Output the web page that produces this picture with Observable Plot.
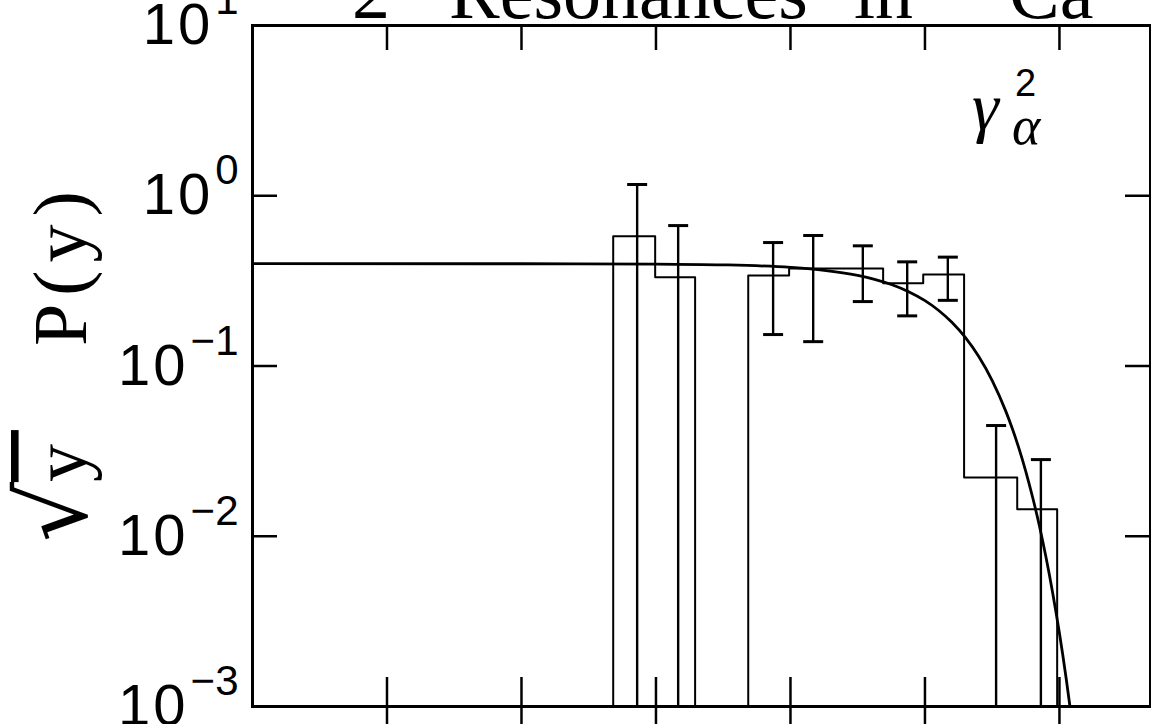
<!DOCTYPE html>
<html>
<head>
<meta charset="utf-8">
<script src="https://cdn.jsdelivr.net/npm/d3@7"></script>
<script src="https://cdn.jsdelivr.net/npm/@observablehq/plot@0.6"></script>
<style>
  html, body { margin: 0; padding: 0; background: #fff; }
  #wrap { position: relative; width: 1151px; height: 724px; overflow: hidden; background: #fff; }
  #wrap > svg { position: absolute; left: 0; top: 0; }
  #ov { pointer-events: none; }
</style>
</head>
<body>
<div id="wrap">
<svg id="ov" width="1151" height="724" xmlns="http://www.w3.org/2000/svg" style="z-index:2">
  <text font-family="Liberation Serif" font-size="76" y="18" fill="#000">
    <tspan x="352">2</tspan><tspan font-size="46" dy="-34">+</tspan><tspan x="449" dy="34">Resonances</tspan><tspan x="854">in</tspan><tspan x="935" font-size="46" dy="-34">44</tspan><tspan x="1009" dy="34">Ca</tspan>
  </text>
  <text transform="translate(86,542) rotate(-90)" font-family="Liberation Serif" font-size="76" fill="#000"><tspan x="0" font-family="DejaVu Sans" font-size="94">√</tspan><tspan text-decoration="overline" letter-spacing="14">y</tspan><tspan x="196" letter-spacing="8">P(y)</tspan></text>
  <text font-family="Liberation Serif" font-style="italic" fill="#000">
    <tspan x="972" y="130" font-size="68">γ</tspan>
    <tspan x="1015" y="96" font-size="38" font-style="normal" font-family="Liberation Sans">2</tspan>
    <tspan x="1012" y="144" font-size="54">α</tspan>
  </text>
</svg>
</div>
<script>
// ---- data (x: log10 of reduced width y = γ²/<γ²>, y: √y P(y)) ----
const binLo  = [-2.318, -2.006, -1.314, -1.010, -0.660, -0.311, -0.013, 0.291, 0.686];
const binHi  = [-2.006, -1.709, -1.010, -0.660, -0.311, -0.013, 0.291, 0.686, 0.983];
const binVal = [0.578, 0.332, 0.340, 0.374, 0.374, 0.306, 0.345, 0.0221, 0.0144];

const errX    = [-2.140, -1.835, -1.129, -0.831, -0.462, -0.132, 0.170, 0.529, 0.862];
const errLow  = [0, 0, 0.153, 0.139, 0.239, 0.197, 0.243, 0, 0];
const errHigh = [1.164, 0.668, 0.531, 0.584, 0.508, 0.409, 0.436, 0.0447, 0.0282];

const curveX = [-5, -3, -2, -1.5, -1, -0.75, -0.5, -0.375, -0.25, -0.125, 0, 0.1, 0.2, 0.3, 0.4, 0.5, 0.6, 0.65, 0.7, 0.75, 0.8, 0.85, 0.9, 0.95, 1.0, 1.05, 1.078];
const curveY = [0.3989, 0.3987, 0.3969, 0.3927, 0.3795, 0.3650, 0.3406, 0.3231, 0.3011, 0.2742, 0.2420, 0.2126, 0.1806, 0.1471, 0.1136, 0.0821, 0.0545, 0.0428, 0.0326, 0.0240, 0.0170, 0.0116, 0.00752, 0.00463, 0.00269, 0.00146, 0.00100];

const xTicks = [-4, -3, -2, -1, 0, 1];
const yTicks = [1e-2, 1e-1, 1e0];
const yLabelTicks = [1e-3, 1e-2, 1e-1, 1e0, 1e1];

const xDomain = [-5, 1.677];
const yDomain = [1e-3, 10];

// ---- derived tables ----
const yMin = yDomain[0];
const outline = [];
let group = 0;
binLo.forEach((lo, i) => {
  const startNew = i === 0 || Math.abs(binHi[i - 1] - lo) > 1e-9;
  if (startNew) {
    if (i > 0) outline.push({x: binHi[i - 1], y: yMin, g: group});
    group++;
    outline.push({x: lo, y: yMin, g: group});
  }
  outline.push({x: lo, y: binVal[i], g: group});
  outline.push({x: binHi[i], y: binVal[i], g: group});
});
outline.push({x: binHi[binHi.length - 1], y: yMin, g: group});

const errs = errX.map((x, i) => ({x, lo: Math.max(errLow[i], yMin), hi: errHigh[i], hasLo: errLow[i] > yMin}));
const caps = [];
errs.forEach(e => { caps.push({x: e.x, y: e.hi}); if (e.hasLo) caps.push({x: e.x, y: e.lo}); });
const curve = curveX.map((x, i) => ({x, y: curveY[i]}));

const capSymbol = {draw(ctx, size) { const h = Math.sqrt(size / Math.PI); ctx.moveTo(-h, 0); ctx.lineTo(h, 0); }};

const W = 1151, H = 724, mL = 252, mR = 1, mT = 25, mB = 18;
const innerW = W - mL - mR, innerH = H - mT - mB;
const tickLen = 25;

const chart = Plot.plot({
  width: W, height: H,
  marginLeft: mL, marginRight: mR, marginTop: mT, marginBottom: mB,
  style: {background: "transparent", overflow: "visible", color: "#000"},
  x: {domain: xDomain, axis: null},
  y: {type: "log", domain: yDomain, axis: null},
  marks: [
    // axis ticks (inside the frame)
    Plot.tickX(xTicks, {x: d => d, insetBottom: innerH - tickLen, stroke: "#000", strokeWidth: 2.5}),
    Plot.tickX(xTicks, {x: d => d, insetTop: innerH - tickLen - 4, insetBottom: -22, stroke: "#000", strokeWidth: 2.5}),
    Plot.tickY(yTicks, {y: d => d, insetRight: innerW - tickLen, stroke: "#000", strokeWidth: 2.5}),
    Plot.tickY(yTicks, {y: d => d, insetLeft: innerW - tickLen, stroke: "#000", strokeWidth: 2.5}),
    // histogram outline
    Plot.line(outline, {x: "x", y: "y", z: "g", stroke: "#000", strokeWidth: 2, curve: "linear"}),
    // error bars
    Plot.ruleX(errs, {x: "x", y1: "lo", y2: "hi", stroke: "#000", strokeWidth: 2.4}),
    Plot.dot(caps, {x: "x", y: "y", r: 10, symbol: capSymbol, fill: "none", stroke: "#000", strokeWidth: 3}),
    // Porter-Thomas curve
    Plot.line(curve, {x: "x", y: "y", stroke: "#000", strokeWidth: 2.8, curve: "monotone-x"}),
    Plot.frame({stroke: "#000", strokeWidth: 3}),
    Plot.axisY(yLabelTicks, {
      anchor: "left", tickSize: 0, tickPadding: 14,
      tickFormat: d => String(Math.round(Math.log10(d))),
      fontSize: 58, fontFamily: "Liberation Sans", fill: "#000"
    })
  ]
});

const wrap = document.getElementById("wrap");
wrap.insertBefore(chart, wrap.firstChild);

// superscript exponents on the y tick labels
d3.select(chart).selectAll('g[aria-label="y-axis tick label"] text').each(function() {
  const exp = this.textContent.replace("-", "\u2212");
  const t = d3.select(this);
  t.text(null).attr("font-family", "Liberation Sans").attr("font-size", 58);
  t.append("tspan").attr("letter-spacing", 3).text("10");
  t.append("tspan").attr("font-size", 42).attr("dx", 2).attr("dy", -30).text(exp);
});
</script>
</body>
</html>
